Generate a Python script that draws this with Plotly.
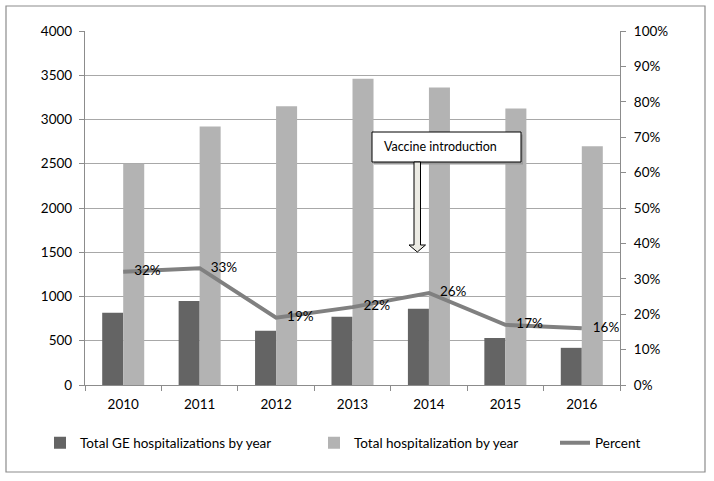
import plotly.graph_objects as go

years = ["2010", "2011", "2012", "2013", "2014", "2015", "2016"]
ge_hosp = [815, 950, 612, 772, 862, 532, 420]
total_hosp = [2500, 2922, 3150, 3460, 3362, 3125, 2697]
percent = [0.32, 0.33, 0.19, 0.22, 0.26, 0.17, 0.16]
percent_labels = ["32%", "33%", "19%", "22%", "26%", "17%", "16%"]

W, H = 714, 481
L, R, T, B = 85, 620, 31, 385
FONT = "Lato"
FS = 13.5

def px(x):
    return (x - L) / (R - L)

def py(y):
    return (B - y) / (B - T)

fig = go.Figure()
fig.add_trace(go.Bar(x=years, y=ge_hosp, name="Total GE hospitalizations by year",
                     marker=dict(color="#646464", line=dict(width=0)), legend="legend",
                     showlegend=True))
fig.add_trace(go.Bar(x=years, y=total_hosp, name="Total hospitalization by year",
                     marker=dict(color="#b3b3b3", line=dict(width=0)), legend="legend2",
                     showlegend=True))
fig.add_trace(go.Scatter(x=years, y=percent, name="Percent", yaxis="y2",
                         mode="lines+markers+text", text=percent_labels,
                         textposition="middle right",
                         textfont=dict(family=FONT, size=FS, color="#000"),
                         marker=dict(size=16, color="rgba(0,0,0,0)"),
                         line=dict(color="#808080", width=4), legend="legend3",
                         showlegend=True))

axis_common = dict(showline=True, linecolor="#8c8c8c", linewidth=1.3,
                   ticks="outside", ticklen=5, tickcolor="#8c8c8c",
                   tickfont=dict(family=FONT, size=FS, color="#000"))

shapes = [
    # outer border
    dict(type="rect", xref="paper", yref="paper", x0=px(6), x1=px(705), y0=py(472), y1=py(6),
         line=dict(color="#8c8c8c", width=1.2), fillcolor="rgba(0,0,0,0)", layer="below"),
    # callout shadow
    dict(type="rect", xref="paper", yref="paper", x0=px(374), x1=px(523), y0=py(164.5), y1=py(134.5),
         line=dict(width=0), fillcolor="#9a9a9a"),
    # callout box
    dict(type="rect", xref="paper", yref="paper", x0=px(372), x1=px(521), y0=py(162), y1=py(132),
         line=dict(color="#000", width=1), fillcolor="#fff"),
    # arrow
    dict(type="path", xref="paper", yref="paper",
         path=("M {a},{t} L {b},{t} L {b},{h} L {c},{h} L {m},{tip} L {d},{h} L {a},{h} Z"
               .format(a=px(414), b=px(420.5), t=py(162), h=py(245), c=px(425.5),
                       m=px(417.3), tip=py(252), d=px(409))),
         line=dict(color="#000", width=1), fillcolor="#ecebe4"),
]

legend_common = dict(orientation="h", xanchor="left", yanchor="middle",
                     font=dict(family=FONT, size=FS), bgcolor="rgba(0,0,0,0)", visible=True)

fig.update_layout(
    width=W, height=H,
    margin=dict(l=L, r=W - R, t=T, b=H - B),
    paper_bgcolor="#fff", plot_bgcolor="#fff",
    showlegend=True,
    barmode="group", bargap=0.45, bargroupgap=0,
    font=dict(family=FONT, size=FS, color="#000"),
    xaxis=dict(type="category", tickson="boundaries", ticklabelstandoff=7, **axis_common),
    yaxis=dict(range=[0, 4000], dtick=500, showgrid=True, gridcolor="#a8a8a8", gridwidth=1,
               zeroline=False, ticklabelstandoff=4, **axis_common),
    yaxis2=dict(range=[0, 1], dtick=0.1, tickformat=".0%", overlaying="y", side="right",
                showgrid=False, zeroline=False, ticklabelstandoff=5, **axis_common),
    shapes=shapes,
    annotations=[dict(xref="paper", yref="paper", x=px(382), y=py(146), xanchor="left",
                      yanchor="middle", text="Vaccine introduction", showarrow=False,
                      font=dict(family=FONT, size=12.5, color="#000"))],
    legend=dict(x=px(40), y=py(443), **legend_common),
    legend2=dict(x=px(314), y=py(443), **legend_common),
    legend3=dict(x=px(555), y=py(443), **legend_common),
)

fig.write_html("out.html", config={"displayModeBar": False},
               post_script="document.body.style.margin='0px';")
